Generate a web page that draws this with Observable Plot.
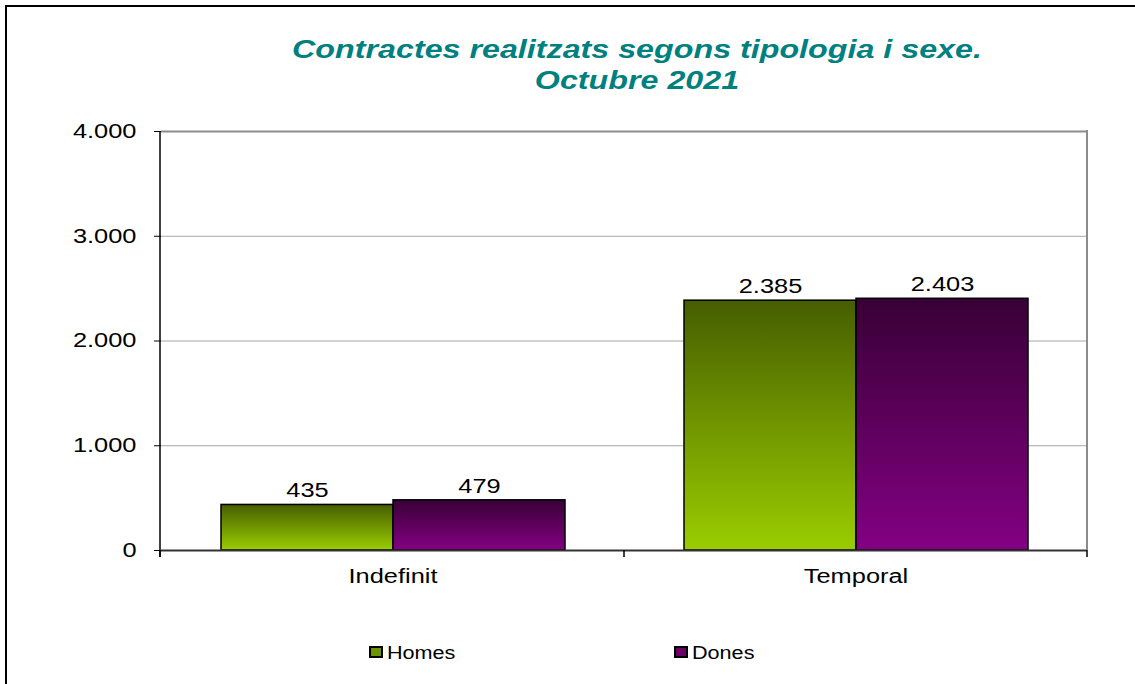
<!DOCTYPE html>
<html><head><meta charset="utf-8">
<script src="https://cdn.jsdelivr.net/npm/d3@7"></script>
<script src="https://cdn.jsdelivr.net/npm/@observablehq/plot@0.6"></script>
<style>
html,body{margin:0;padding:0;background:#fff;overflow:hidden;width:1135px;height:684px}
body{position:relative;font-family:"Liberation Sans",Arial,sans-serif}
#border{position:absolute;left:5px;top:5px;width:2000px;height:2000px;border-left:2px solid #000;border-top:2px solid #000}
#title{position:absolute;left:0;width:1274px;top:34px;text-align:center;color:#008080;font-weight:bold;font-style:italic;font-size:26px;line-height:31px;transform:scaleX(1.24);transform-origin:637px 0;white-space:nowrap}
#chart{position:absolute;left:0;top:100px}
.sw{position:absolute;width:10px;height:8px;border:2px solid #000}
.lt{position:absolute;font-size:18px;line-height:20px;color:#000;transform:scaleX(1.2);transform-origin:0 0;white-space:nowrap}
</style></head>
<body>
<div id="border"></div>
<div id="title">Contractes realitzats segons tipologia i sexe.<br>Octubre 2021</div>
<div id="chart"></div>
<div id="legend"></div>
<script>
const categories = ["Indefinit", "Temporal"];
const sexes = ["Homes", "Dones"];
const homes = [435, 2385];
const dones = [479, 2403];
const yTicks = [0, 1000, 2000, 3000, 4000];
const gradients = {Homes: ["#465e00", "#9acd00"], Dones: ["#380036", "#830083"]};
const swatchColors = {Homes: "#6b9400", Dones: "#6a0068"};

const rows = categories.flatMap((c, i) => [
  {category: c, sex: sexes[0], value: homes[i]},
  {category: c, sex: sexes[1], value: dones[i]}
]);
const fmt = d3.formatLocale({decimal: ",", thousands: ".", grouping: [3], currency: ["", ""]}).format(",d");

const plot = Plot.plot({
  width: 1135, height: 500,
  marginLeft: 160, marginRight: 48, marginTop: 31, marginBottom: 50,
  style: {fontFamily: "Liberation Sans, Arial, sans-serif", fontSize: "20px", color: "#000", background: "transparent"},
  fx: {domain: categories, padding: 0, label: null, axis: "bottom", tickSize: 0, tickPadding: 18},
  x: {domain: sexes, paddingInner: 0, paddingOuter: 0.3435, axis: null},
  y: {domain: [0, 4000], ticks: yTicks, tickFormat: fmt, tickSize: 7, tickPadding: 18, label: null},
  color: {type: "ordinal", domain: sexes, range: sexes.map(s => `url(#grad${s})`)},
  marks: [
    Plot.ruleY(yTicks.slice(1, -1), {stroke: "#a6a6a6", strokeWidth: 1}),
    Plot.ruleY([4000], {stroke: "#8c8c8c", strokeWidth: 2}),
    Plot.barY(rows, {fx: "category", x: "sex", y: "value", fill: "sex", stroke: "#000", strokeWidth: 1.5}),
    Plot.ruleY([0], {stroke: "#333", strokeWidth: 2}),
    Plot.text(rows, {fx: "category", x: "sex", y: "value", text: d => fmt(d.value), dy: -14, fill: "#000"})
  ]
});
document.getElementById("chart").appendChild(plot);

const svg = d3.select(plot);
const defs = svg.insert("defs", ":first-child");
for (const s of sexes) {
  const g = defs.append("linearGradient").attr("id", `grad${s}`).attr("x1", 0).attr("y1", 0).attr("x2", 0).attr("y2", 1);
  g.append("stop").attr("offset", "0%").attr("stop-color", gradients[s][0]);
  g.append("stop").attr("offset", "100%").attr("stop-color", gradients[s][1]);
}

// structural lines derived from the plot's scales
const fx = plot.scale("fx"), y = plot.scale("y");
const x0 = fx.range[0], x1 = fx.range[1];
const y0 = y.apply(0), yTop = y.apply(4000);
const bounds = [x0, ...categories.slice(1).map(c => fx.apply(c)), x1];
const deco = svg.append("g");
deco.append("line").attr("x1", x1).attr("x2", x1).attr("y1", yTop - 1).attr("y2", y0).attr("stroke", "#8c8c8c").attr("stroke-width", 2);
deco.append("line").attr("x1", x0).attr("x2", x0).attr("y1", yTop).attr("y2", y0 + 7).attr("stroke", "#000").attr("stroke-width", 1.5);
for (const b of bounds) {
  deco.append("line").attr("x1", b).attr("x2", b).attr("y1", y0).attr("y2", y0 + 7).attr("stroke", "#000").attr("stroke-width", 1.5);
}

// horizontal stretch of text, as in the original
plot.querySelectorAll("text").forEach(t => {
  const L = t.getComputedTextLength();
  if (L > 0) { t.setAttribute("textLength", L * 1.27); t.setAttribute("lengthAdjust", "spacingAndGlyphs"); }
});

// legend
const legend = document.getElementById("legend");
const legendPos = {Homes: 369, Dones: 674};
for (const s of sexes) {
  const sw = document.createElement("div");
  sw.className = "sw";
  sw.style.left = legendPos[s] + "px"; sw.style.top = "646px";
  sw.style.background = swatchColors[s];
  legend.appendChild(sw);
  const t = document.createElement("div");
  t.className = "lt";
  t.style.left = (legendPos[s] + 18) + "px"; t.style.top = "643px";
  t.textContent = s;
  legend.appendChild(t);
}
</script>
</body></html>
